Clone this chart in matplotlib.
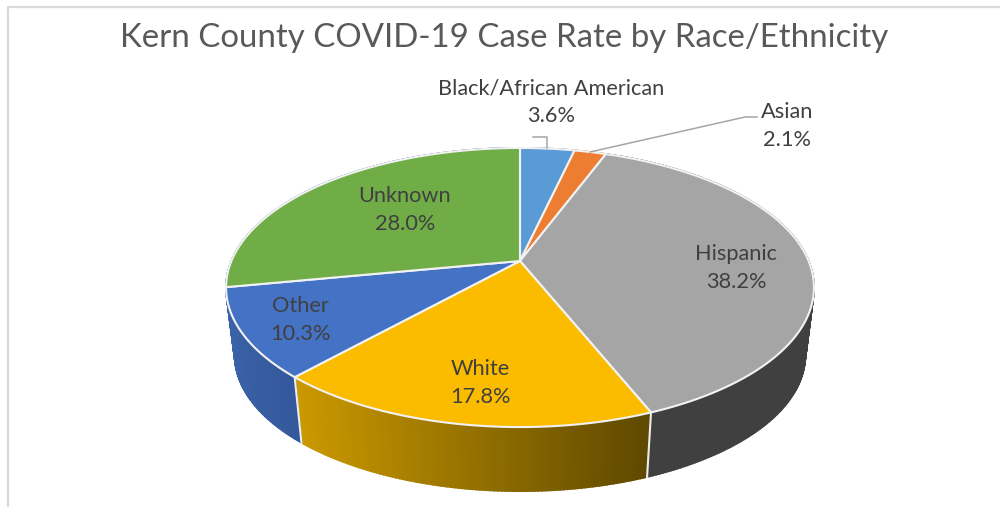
import matplotlib
matplotlib.use("Agg")
import matplotlib.pyplot as plt
import numpy as np

labels = ["Black/African American", "Asian", "Hispanic", "White", "Other", "Unknown"]
values = [3.6, 2.1, 38.2, 17.8, 10.3, 28.0]
top_colors = ["#5B9BD5", "#ED7D31", "#A5A5A5", "#FBBC00", "#4472C4", "#70AD47"]
# side colour at the left and right end of each slice's rim
side_left = ["#4A7FAF", "#C26628", "#404040", "#CB9900", "#3A62A6", "#3A62A6"]
side_right = ["#4A7FAF", "#C26628", "#404040", "#5E4800", "#34579A", "#3A62A6"]
title = "Kern County COVID-19 Case Rate by Race/Ethnicity"

label_pos = [(551, 102), (787, 126), (736, 268), (480, 383), (300, 320), (405, 210)]

plt.rcParams["font.family"] = ["Lato", "DejaVu Sans"]


# perspective view of a disc, in picture pixels
def project(theta, r=1.0, scale=1.0, y0=261):
    k = 0.19
    xd = r * np.sin(theta)
    yd = -r * np.cos(theta)
    w = 1 - k * yd
    return 520 + scale * 288.6 * xd / w, y0 + scale * 134.5 * yd / w


fig = plt.figure(figsize=(10, 5.07), dpi=100)
ax = fig.add_axes([0, 0, 1, 1])
ax.set_xlim(0, 1000)
ax.set_ylim(507, 0)
ax.axis("off")

# frame of the screenshot
ax.plot([8, 8, 1000], [507, 7, 7], color="#D9D9D9", lw=1.6)

edges = np.radians(np.cumsum([0] + values) * 3.6)

# sides first, the top hides the back half
for i in range(len(values)):
    th = np.linspace(edges[i], edges[i + 1], max(int(values[i] * 6), 4))
    ux, uy = project(th)
    lx, ly = project(th, scale=0.97, y0=330)
    c0 = np.array(matplotlib.colors.to_rgb(side_left[i]))
    c1 = np.array(matplotlib.colors.to_rgb(side_right[i]))
    lo, hi = ux.min(), ux.max()
    for j in range(len(th) - 1):
        f = ((ux[j] + ux[j + 1]) / 2 - lo) / max(hi - lo, 1)
        col = c0 + (c1 - c0) * f
        # a little overlap so no light streaks show between the strips
        ax.fill([ux[j], ux[j + 1], lx[j + 1], lx[j]], [uy[j], uy[j + 1], ly[j + 1], ly[j]],
                color=col, lw=1.3, zorder=2)
# white seam between the slices on the side
for e in edges[1:]:
    ux, uy = project(e)
    lx, ly = project(e, scale=0.97, y0=330)
    if np.cos(e) < 0 and np.sin(e) > -0.9:
        ax.plot([ux, lx], [uy, ly], color="#EDEDED", lw=1.5, zorder=3)

# top of the pie
for i in range(len(values)):
    th = np.linspace(edges[i], edges[i + 1], max(int(values[i] * 6), 4))
    x, y = project(th)
    ax.fill(np.r_[520, x], np.r_[261, y], facecolor=top_colors[i], edgecolor="#F2F2F2",
            lw=1.5, joinstyle="round", zorder=4)

# leader lines
ax.plot([533, 547, 547], [137, 137, 148], color="#A6A6A6", lw=1.1, zorder=5)
ax.plot([590, 745, 757], [152, 117, 117], color="#A6A6A6", lw=1.1, zorder=5)

for name, val, (x, y) in zip(labels, values, label_pos):
    ax.text(x, y, f"{name}\n{val:.1f}%", ha="center", va="center", fontsize=15.7,
            color="#404040", linespacing=1.45, zorder=6)

ax.text(504, 38, title, ha="center", va="center", fontsize=23.8, color="#595959")

fig.savefig("out.png", dpi=100)
